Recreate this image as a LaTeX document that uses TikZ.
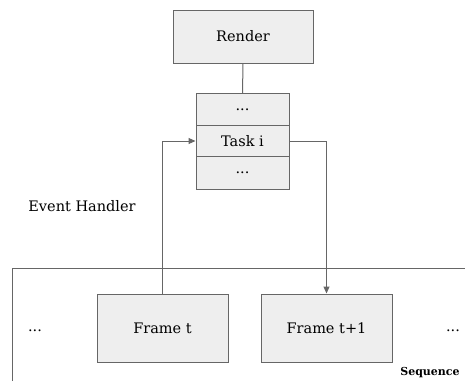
\documentclass[tikz,border=0pt]{standalone}
\usepackage{fontspec}
\setmainfont{DejaVu Serif}
\usetikzlibrary{arrows.meta}
\definecolor{boxfill}{HTML}{EEEEEE}
\definecolor{edge}{HTML}{666666}
\tikzset{
  blk/.style={draw=edge, fill=boxfill, line width=1pt, inner sep=0pt},
  wire/.style={draw=edge, line width=1pt},
  arr/.style={wire, -{Triangle[length=7pt,width=6pt]}},
  lbl/.style={font=\fontsize{14.5}{17}\selectfont, text=black}
}
\begin{document}
\begin{tikzpicture}[x=1pt, y=-1pt]
  \useasboundingbox (0,0) rectangle (465,381);
  % render stage
  \node[blk, lbl, minimum width=140pt, minimum height=53pt] (render) at (243,36.5) {Render};
  % task queue: three stacked cells sharing their borders
  \node[blk, lbl, minimum width=93pt, minimum height=32pt] (q1) at (242.5,109.5) {...};
  \node[blk, lbl, minimum width=93pt, minimum height=31pt] (task) at (242.5,141) {Task i};
  \node[blk, lbl, minimum width=93pt, minimum height=32.5pt] (q3) at (242.5,172.75) {...};
  \draw[wire] (render.south) -- (q1.north);
  % frame sequence
  \draw[wire] (12,381) -- (12,268) -- (465,268);
  \node[blk, lbl, minimum width=131pt, minimum height=68pt] (f1) at (162.5,328) {Frame t};
  \node[blk, lbl, minimum width=131pt, minimum height=68pt] (f2) at (326.5,328) {Frame t+1};
  \node[lbl] (dl) at (35,331) {...};
  \node[lbl] (dr) at (453,331) {...};
  \node[font=\fontsize{11}{13}\selectfont\bfseries] (seq) at (430,373) {Sequence};
  \node[lbl] (eh) at (82,206) {Event Handler};
  % event handling loop
  \draw[arr] (f1.north -| 162,0) |- (task.west);
  \draw[arr] (task.east) -| (f2.north);
\end{tikzpicture}
\end{document}
